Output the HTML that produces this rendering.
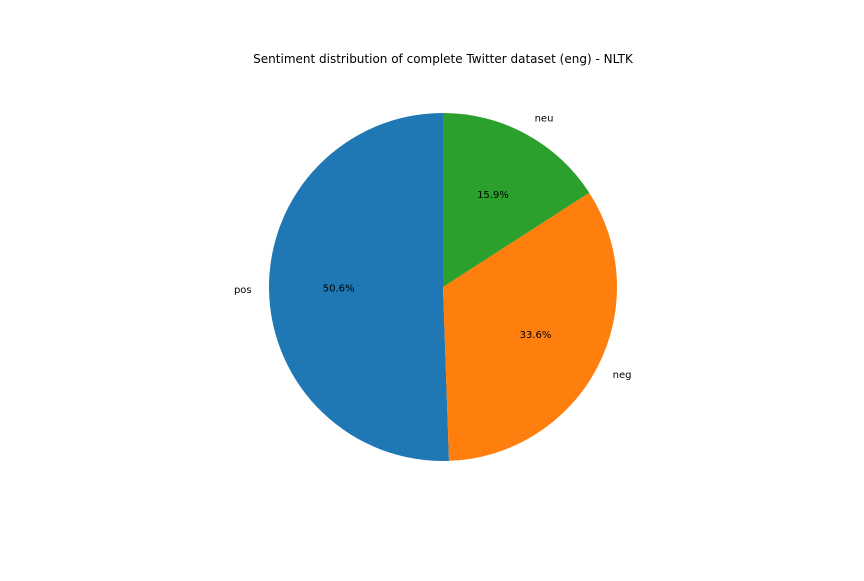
<!DOCTYPE html>
<html><head><meta charset="utf-8"><style>
body{margin:0;background:#fff}
svg text{font-family:"DejaVu Sans","Liberation Sans",sans-serif;fill:#000}
</style></head><body>
<svg id="chart" width="864" height="576" viewBox="0 0 864 576">
<rect width="864" height="576" fill="#fff"/>
<text x="443" y="63" text-anchor="middle" font-size="12">Sentiment distribution of complete Twitter dataset (eng) - NLTK</text>
<g id="pie"></g>
</svg>
<script>
const labels = ['pos', 'neg', 'neu'];
const values = [50.6, 33.6, 15.9];
const colors = ['#1f77b4', '#ff7f0e', '#2ca02c'];
const cx = 443, cy = 287, r = 174;
const ns = 'http://www.w3.org/2000/svg';
const g = document.getElementById('pie');
const total = values.reduce((a, b) => a + b, 0);
let start = 90;
function pt(angDeg, rad) {
  const a = angDeg * Math.PI / 180;
  return [cx + rad * Math.cos(a), cy - rad * Math.sin(a)];
}
values.forEach((v, i) => {
  const sweep = v / total * 360;
  const end = start + sweep;
  const [x1, y1] = pt(start, r), [x2, y2] = pt(end, r);
  const p = document.createElementNS(ns, 'path');
  p.setAttribute('d', `M${cx},${cy} L${x1},${y1} A${r},${r} 0 ${sweep > 180 ? 1 : 0} 0 ${x2},${y2} Z`);
  p.setAttribute('fill', colors[i]);
  
  
  g.appendChild(p);
  const mid = (start + end) / 2;
  const [lx, ly] = pt(mid, r * 1.1);
  const t = document.createElementNS(ns, 'text');
  t.setAttribute('x', lx); t.setAttribute('y', ly + 2.5);
  t.setAttribute('font-size', '10');
  t.setAttribute('text-anchor', Math.cos(mid * Math.PI / 180) >= 0 ? 'start' : 'end');
  t.textContent = labels[i];
  
  
  g.appendChild(t);
  const [px, py] = pt(mid, r * 0.6);
  const t2 = document.createElementNS(ns, 'text');
  t2.setAttribute('x', px); t2.setAttribute('y', py + 2.5);
  t2.setAttribute('font-size', '10');
  t2.setAttribute('text-anchor', 'middle');
  t2.textContent = v.toFixed(1) + '%';
  
  
  g.appendChild(t2);
  start = end;
});
</script>
</body></html>
